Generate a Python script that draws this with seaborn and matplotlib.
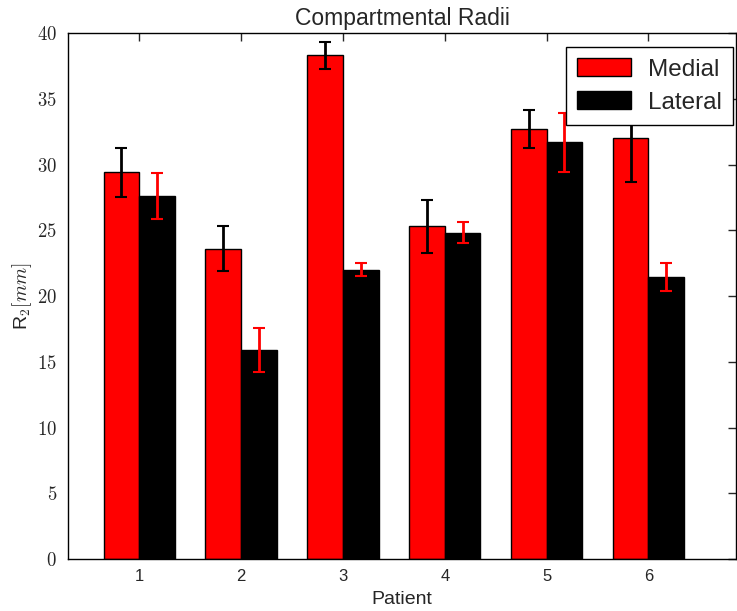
import numpy as np
import pandas as pd
import matplotlib
matplotlib.use('Agg')
import matplotlib.pyplot as plt
import seaborn as sns
from matplotlib.ticker import FuncFormatter

# values
patients = ['1', '2', '3', '4', '5', '6']
medial = [29.4, 23.6, 38.3, 25.3, 32.7, 32.0]
medial_err = [1.85, 1.7, 1.05, 2.0, 1.45, 3.3]
lateral = [27.6, 15.9, 22.0, 24.8, 31.7, 21.45]
lateral_err = [1.75, 1.7, 0.5, 0.8, 2.25, 1.05]
groups = ['Medial', 'Lateral']

sns.set_style('white', {'axes.edgecolor': 'black'})
plt.rcParams['font.family'] = ['Liberation Sans', 'DejaVu Sans']
plt.rcParams['mathtext.fontset'] = 'cm'

df = pd.DataFrame({
    'Patient': patients * 2,
    'R2': medial + lateral,
    'Compartment': [groups[0]] * len(patients) + [groups[1]] * len(patients),
})

fig = plt.figure(figsize=(7.37, 6.11), dpi=100)
ax = fig.add_axes([0.0923, 0.085, 0.9063, 0.861])

sns.barplot(data=df, x='Patient', y='R2', hue='Compartment', order=patients,
            hue_order=groups, palette=['red', 'black'], errorbar=None,
            width=0.7, edgecolor='black', linewidth=1, saturation=1, ax=ax)

# error bars on top of the bars, colour swapped per series
bars = ax.patches
med_x = [b.get_x() + b.get_width() / 2 for b in bars[:len(patients)]]
lat_x = [b.get_x() + b.get_width() / 2 for b in bars[len(patients):2 * len(patients)]]
ax.errorbar(med_x, medial, yerr=medial_err, fmt='none', ecolor='black',
            elinewidth=2, capsize=4, capthick=1.5, zorder=5)
ax.errorbar(lat_x, lateral, yerr=lateral_err, fmt='none', ecolor='red',
            elinewidth=2, capsize=4, capthick=1.5, zorder=5)

ax.set_xlim(-0.70, 5.86)
ax.set_ylim(0, 40)
ax.set_yticks(np.arange(0, 41, 5))
ax.yaxis.set_major_formatter(FuncFormatter(lambda v, p: r'$%d$' % v))
ax.tick_params(direction='in', top=True, right=True, length=6, width=1,
               labelsize=12, pad=7)
ax.tick_params(axis='y', labelsize=13.5, pad=8)
for s in ax.spines.values():
    s.set_linewidth(1)
    s.set_color('black')

ax.set_title('Compartmental Radii', fontsize=16.5)
ax.set_xlabel('Patient', fontsize=14, labelpad=5)
ax.set_ylabel(r'R$_2[mm]$', fontsize=14, labelpad=2)

leg = ax.legend(loc='upper right', bbox_to_anchor=(0.995, 0.973),
                borderaxespad=0, fontsize=17.5, fancybox=False, framealpha=1,
                edgecolor='black', handlelength=2.2, handleheight=0.75,
                handletextpad=0.7, borderpad=0.45, labelspacing=0.45)
leg.get_frame().set_linewidth(1)

fig.savefig('out.png', dpi=100)
